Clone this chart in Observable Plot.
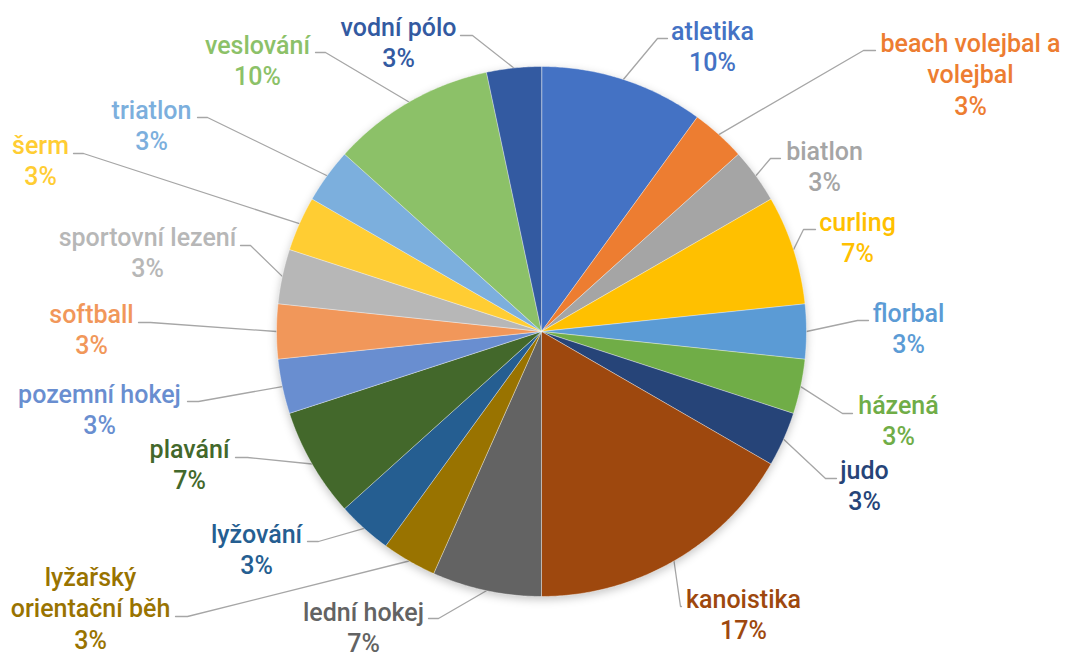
<!DOCTYPE html>
<html>
<head>
<meta charset="utf-8">
<script src="https://cdn.jsdelivr.net/npm/d3@7"></script>
<script src="https://cdn.jsdelivr.net/npm/@observablehq/plot@0.6"></script>
<style>
  html, body { margin: 0; padding: 0; background: #ffffff; }
  #chart { width: 1080px; height: 653px; overflow: hidden; }
</style>
</head>
<body>
<div id="chart"></div>
<script>
// ---- data ----
const categories = [
  "atletika", "beach volejbal a volejbal", "biatlon", "curling", "florbal",
  "házená", "judo", "kanoistika", "lední hokej", "lyžařský orientační běh",
  "lyžování", "plavání", "pozemní hokej", "softball", "sportovní lezení",
  "šerm", "triatlon", "veslování", "vodní pólo"
];
const counts = [3, 1, 1, 2, 1, 1, 1, 5, 2, 1, 1, 2, 1, 1, 1, 1, 1, 3, 1];

// ---- styles ----
const colors = [
  "#4472C4", "#ED7D31", "#A5A5A5", "#FFC000", "#5B9BD5",
  "#70AD47", "#264478", "#9E480E", "#636363", "#997300",
  "#255E91", "#43682B", "#698ED0", "#F1975A", "#B7B7B7",
  "#FFCD33", "#7CAFDD", "#8CC168", "#335AA1"
];
const wrapped = {
  "beach volejbal a volejbal": "beach volejbal a\nvolejbal",
  "lyžařský orientační běh": "lyžařský\norientační běh"
};

// ---- layout (pixels): label centre x, first baseline, leader end x, elbow x, leader y ----
const W = 1080, H = 653, CX = 541, CY = 331, R = 265, FS = 25, LH = 1.27;
const labelLayout = [
  [712, 39, 667, 657, 38],
  [970, 51, 875, 863, 50],
  [824, 159, 780, 770, 158],
  [857, 230, 815, 803, 229],
  [908, 321, 868, 857, 320],
  [898, 413, 852, 842, 413],
  [864, 478, 836, 825, 478],
  [743, 607, 681, 680, 606],
  [363, 620, 428, 438, 618],
  [90, 585, 175, 187, 616],
  [256, 542, 307, 318, 541],
  [189, 457, 235, 247, 457],
  [99, 402, 187, 198, 401],
  [91, 322, 138, 150, 322],
  [147, 245, 240, 250, 245],
  [40, 153, 73, 83, 153],
  [151, 118, 197, 207, 117],
  [257, 53, 315, 325, 52],
  [398, 35, 460, 472, 35]
];
const ux = px => (px - CX) / R;
const uy = py => (CY - py) / R;

// ---- geometry from data ----
const total = d3.sum(counts);
const arcs = d3.pie().sort(null).value(d => d)(counts);

const slicePts = [];
const leaderPts = [];
const labels = [];
arcs.forEach((a, i) => {
  const cat = categories[i];
  slicePts.push({cat, x: 0, y: 0});
  const steps = Math.max(2, Math.ceil((a.endAngle - a.startAngle) / (Math.PI / 360)));
  for (let k = 0; k <= steps; ++k) {
    const t = a.startAngle + (a.endAngle - a.startAngle) * k / steps;
    slicePts.push({cat, x: Math.sin(t), y: Math.cos(t)});
  }
  const mid = (a.startAngle + a.endAngle) / 2;
  const [tx, b1, ex, elx, ly] = labelLayout[i];
  leaderPts.push({cat, x: Math.sin(mid), y: Math.cos(mid)});
  leaderPts.push({cat, x: ux(elx), y: uy(ly)});
  leaderPts.push({cat, x: ux(ex), y: uy(ly)});
  const pct = Math.round(counts[i] / total * 100) + "%";
  labels.push({
    cat,
    x: ux(tx),
    y: uy(b1 - 0.71 * LH * FS),
    text: (wrapped[cat] ?? cat) + "\n" + pct
  });
});

const chart = Plot.plot({
  width: W,
  height: H,
  margin: 0,
  style: {background: "#ffffff"},
  x: {domain: [ux(0), ux(W)], axis: null},
  y: {domain: [uy(H), uy(0)], axis: null},
  color: {type: "ordinal", domain: categories, range: colors},
  marks: [
    Plot.line(leaderPts, {x: "x", y: "y", z: "cat", stroke: "#a6a6a6", strokeWidth: 1.3}),
    Plot.line(slicePts, {
      x: "x", y: "y", z: "cat", fill: "cat",
      stroke: "#ffffff", strokeWidth: 0.6, strokeOpacity: 0.7,
      curve: "linear-closed", ariaDescription: "pie"
    }),
    Plot.text(labels, {
      x: "x", y: "y", text: "text", fill: "cat",
      textAnchor: "middle", lineAnchor: "top",
      fontSize: FS, fontWeight: 500, fontFamily: "Roboto", lineHeight: LH
    })
  ]
});
const pie = chart.querySelector('g[aria-description="pie"]');
if (pie) pie.style.filter = "drop-shadow(0px 3px 4px rgba(0,0,0,0.22))";
document.getElementById("chart").appendChild(chart);
</script>
</body>
</html>
